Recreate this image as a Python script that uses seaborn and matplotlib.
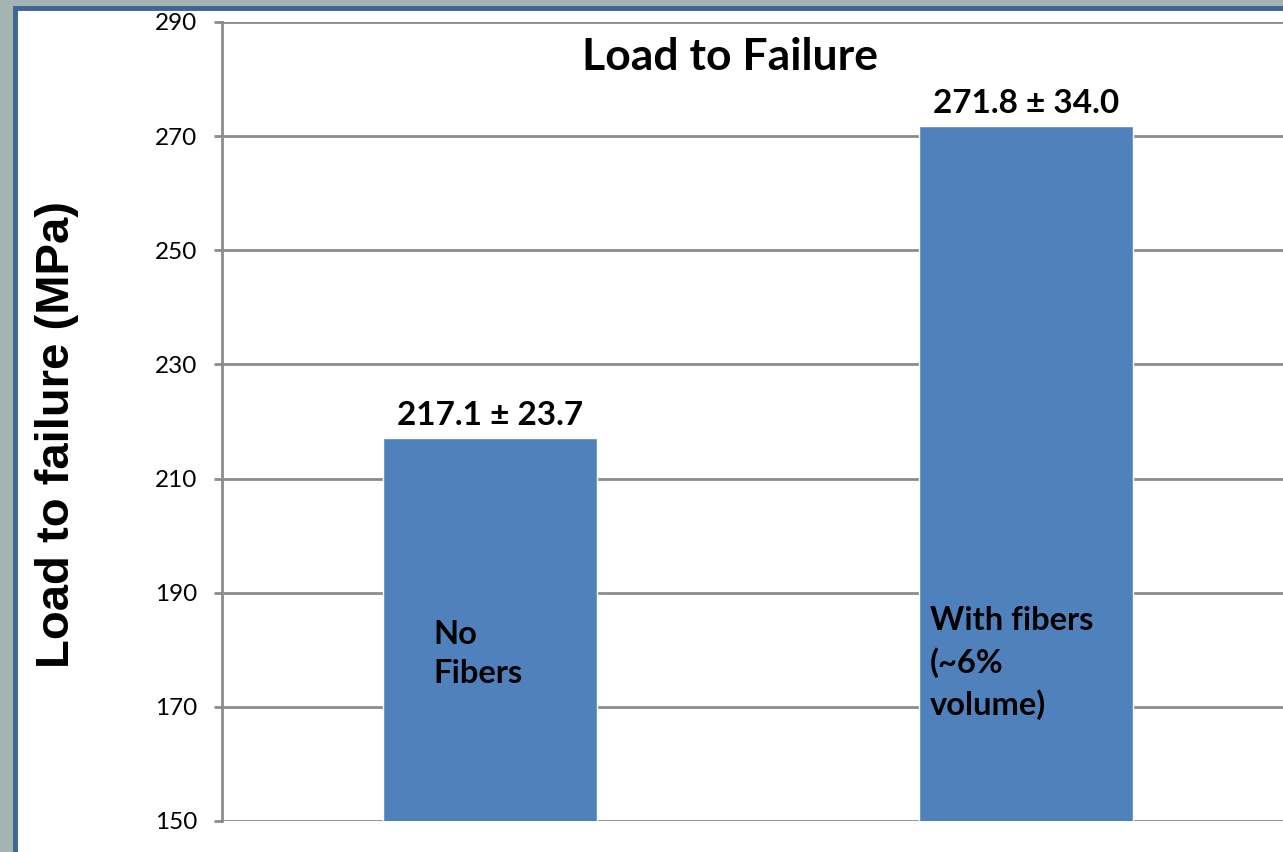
import matplotlib.pyplot as plt
import matplotlib.patches as mpatches
import seaborn as sns
import pandas as pd

# Data
categories = ["No Fibers", "With fibers"]
means = [217.1, 271.8]
std_devs = [23.7, 34.0]
inside_labels = ["No\nFibers", "With fibers\n(~6%\nvolume)"]
y_ticks = [150, 170, 190, 210, 230, 250, 270, 290]

BAR_COLOR = "#4f81bd"
GRID_COLOR = "#8c8c8c"

sns.set_theme(style="white")
plt.rcParams["font.family"] = ["Lato", "DejaVu Sans"]
plt.rcParams["text.color"] = "black"

df = pd.DataFrame({"Group": categories, "Load": means})

fig = plt.figure(figsize=(12.83, 8.52), dpi=100)
fig.patch.set_facecolor("#a3b4b2")

# White slide panel with blue border
panel = mpatches.Rectangle((15 / 1283, -0.02), 1.0, 1 - 8 / 852 + 0.02,
                           transform=fig.transFigure, facecolor="white",
                           edgecolor="#3d6595", linewidth=3.5, zorder=-10)
fig.patches.append(panel)

ax = fig.add_axes([222 / 1283, 31 / 852, 1072 / 1283, 799 / 852])
ax.set_facecolor("none")

sns.barplot(data=df, x="Group", y="Load", color=BAR_COLOR, width=0.4,
            saturation=1, ax=ax, zorder=3)

ax.set_ylim(150, 290)
ax.set_xlim(-0.5, 1.5)
ax.set_yticks(y_ticks)
ax.set_yticklabels([str(t) for t in y_ticks], fontsize=17.5)
ax.set_xticks([])
ax.set_xlabel("")
ax.set_ylabel("")

for y in y_ticks:
    ax.axhline(y, color=GRID_COLOR, linewidth=2, zorder=1)

for side in ["top", "right", "bottom"]:
    ax.spines[side].set_visible(False)
ax.spines["left"].set_color(GRID_COLOR)
ax.spines["left"].set_linewidth(2)
ax.tick_params(axis="y", left=True, length=6, width=2, color=GRID_COLOR,
               pad=12, labelcolor="black")

# Value labels above bars
for i, (m, s) in enumerate(zip(means, std_devs)):
    ax.text(i, m + 1.4, f"{m:.1f} \u00b1 {s:.1f}", ha="center", va="bottom",
            fontsize=24, fontweight="bold", zorder=5)

# Labels inside bars
ax.text(-0.106, 185.3, inside_labels[0], ha="left", va="top", fontsize=23.5,
        fontweight="bold", linespacing=1.45, zorder=5)
ax.text(0.821, 187.6, inside_labels[1], ha="left", va="top", fontsize=23.5,
        fontweight="bold", linespacing=1.45, zorder=5)

fig.text(730 / 1283, 1 - 57 / 852, "Load to Failure", ha="center",
         va="center", fontsize=32, fontweight="bold")

fig.text(57 / 1283, 1 - 435 / 852, "Load to failure (MPa)", rotation=90,
         ha="center", va="center", fontsize=34, fontweight="bold",
         family="Liberation Sans")

fig.savefig("out.png", dpi=100, facecolor=fig.get_facecolor())
